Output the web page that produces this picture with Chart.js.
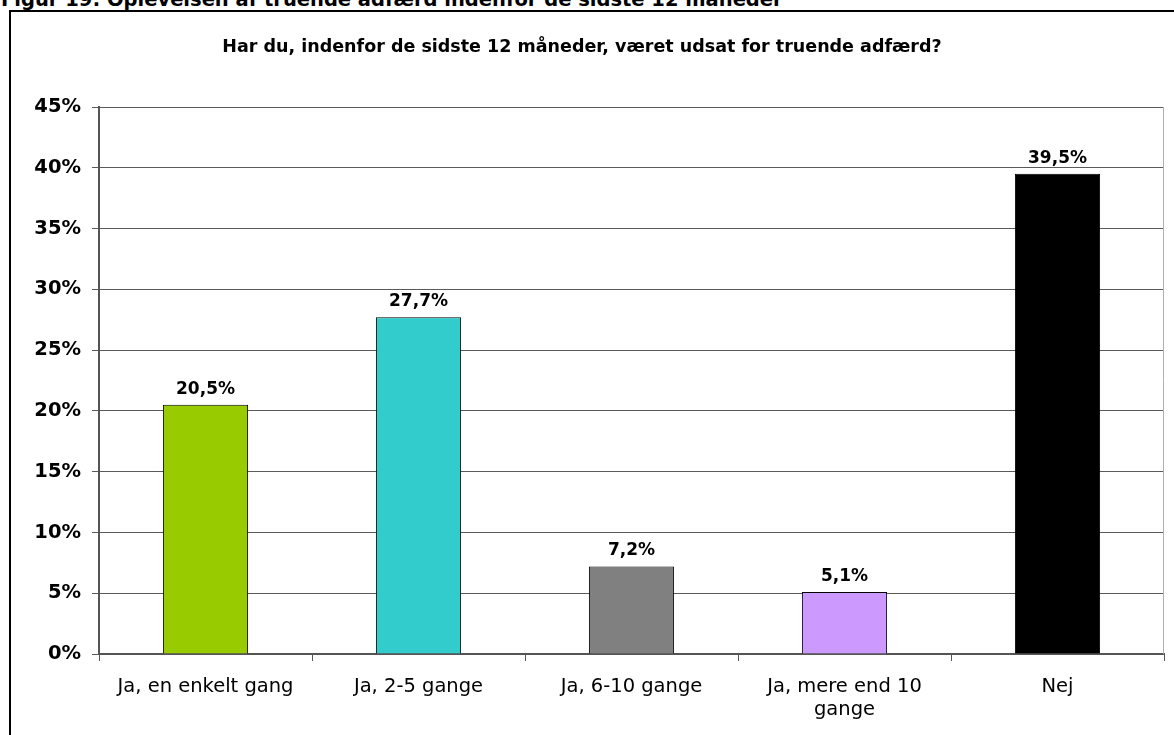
<!DOCTYPE html>
<html>
<head>
<meta charset="utf-8">
<script src="https://cdn.jsdelivr.net/npm/chart.js@4/dist/chart.umd.min.js"></script>
<style>
  html, body { margin: 0; padding: 0; background: #fff; overflow: hidden; }
  #wrap { position: relative; width: 1174px; height: 735px; }
  #figTitle {
    position: absolute; left: 1px; top: -12px; white-space: nowrap;
    font: bold 19.5px Verdana, 'DejaVu Sans', sans-serif; color: #000;
  }
  #box {
    position: absolute; left: 9px; top: 10px; width: 1200px; height: 800px;
    border: 2px solid #000; box-sizing: border-box;
  }
  #myChart { position: absolute; left: 0; top: 0; }
</style>
</head>
<body>
<div id="wrap">
  <div id="figTitle">Figur 19: Oplevelsen af truende adfærd indenfor de sidste 12 måneder</div>
  <div id="box"></div>
  <canvas id="myChart" width="1174" height="735"></canvas>
</div>
<script>
const FONT = "Verdana, 'DejaVu Sans', sans-serif";

const kategorier = [
    'Ja, en enkelt gang',
    'Ja, 2-5 gange',
    'Ja, 6-10 gange',
    ['Ja, mere end 10', 'gange'],
    'Nej'
];
const andele = [20.5, 27.7, 7.2, 5.1, 39.5];
const farver = ['#99CC00', '#33CCCC', '#808080', '#CC99FF', '#000000'];
const yTicks = [0, 5, 10, 15, 20, 25, 30, 35, 40, 45];

const formatPct = v => v.toFixed(1).replace('.', ',') + '%';

// etiketter over søjlerne
const labelPlugin = {
    id: 'vaerdiEtiketter',
    afterDatasetsDraw(chart) {
        const ctx = chart.ctx;
        const meta = chart.getDatasetMeta(0);
        ctx.save();
        ctx.font = 'bold 17px ' + FONT;
        ctx.fillStyle = '#000';
        ctx.textAlign = 'center';
        ctx.textBaseline = 'bottom';
        meta.data.forEach((bar, i) => {
            ctx.fillText(formatPct(andele[i]), bar.x, bar.y - 7);
        });
        ctx.restore();
    }
};

// tynd ramme til højre om plotområdet
const rammePlugin = {
    id: 'hoejreRamme',
    afterDraw(chart) {
        const { ctx, chartArea } = chart;
        ctx.save();
        ctx.strokeStyle = '#b0b0b0';
        ctx.lineWidth = 1;
        ctx.beginPath();
        ctx.moveTo(chartArea.right - 0.5, chartArea.top);
        ctx.lineTo(chartArea.right - 0.5, chartArea.bottom);
        ctx.stroke();
        ctx.restore();
    }
};

const ctx = document.getElementById('myChart');
new Chart(ctx, {
    type: 'bar',
    data: {
        labels: kategorier,
        datasets: [{
            data: andele,
            backgroundColor: farver,
            borderColor: '#000000',
            borderWidth: 1,
            categoryPercentage: 1,
            barPercentage: 0.4
        }]
    },
    options: {
        responsive: false,
        animation: false,
        layout: { padding: { top: 0, left: 0, right: 10, bottom: 0 } },
        plugins: {
            legend: { display: false },
            tooltip: { enabled: false },
            title: {
                display: true,
                text: 'Har du, indenfor de sidste 12 måneder, været udsat for truende adfærd?',
                color: '#000',
                font: { family: FONT, size: 17.5, weight: 'bold' },
                padding: { top: 37, bottom: 49 }
            }
        },
        scales: {
            y: {
                min: 0,
                max: 45,
                afterFit: s => { s.width = 99; },
                afterBuildTicks: s => { s.ticks = yTicks.map(v => ({ value: v })); },
                ticks: {
                    color: '#000',
                    font: { family: FONT, size: 19.5, weight: 'bold' },
                    padding: 11,
                    callback: v => v + '%'
                },
                grid: { color: '#5a5a5a', lineWidth: 1, tickLength: 7 },
                border: { color: '#555555', width: 2 }
            },
            x: {
                afterFit: s => { s.height = 81; },
                ticks: {
                    color: '#000',
                    font: { family: FONT, size: 19.5 },
                    padding: 14,
                    maxRotation: 0,
                    autoSkip: false
                },
                grid: { drawOnChartArea: false, offset: true, color: '#555555', tickLength: 7 },
                border: { color: '#555555', width: 2 }
            }
        }
    },
    plugins: [labelPlugin, rammePlugin]
});
</script>
</body>
</html>
